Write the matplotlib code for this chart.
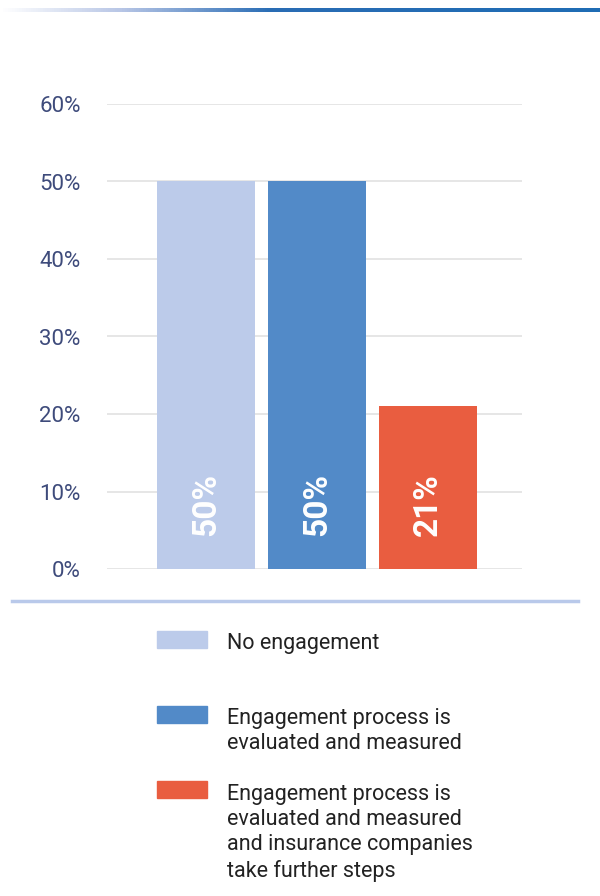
import numpy as np
import matplotlib
matplotlib.use("Agg")
import matplotlib.pyplot as plt
from matplotlib.patches import Rectangle
from matplotlib.lines import Line2D
from matplotlib.colors import LinearSegmentedColormap

categories = [
    "No engagement",
    "Engagement process is\nevaluated and measured",
    "Engagement process is\nevaluated and measured\nand insurance companies\ntake further steps",
]
values = [50, 50, 21]
bar_labels = ["50%", "50%", "21%"]
colors = ["#bccbea", "#528ac8", "#e95d40"]
yticks = [0, 10, 20, 30, 40, 50, 60]
ytick_labels = ["0%", "10%", "20%", "30%", "40%", "50%", "60%"]

W, H = 600, 896
plt.rcParams["font.family"] = ["Roboto", "DejaVu Sans"]
fig = plt.figure(figsize=(W / 100, H / 100), dpi=100)

def fx(px):
    return px / W

def fy(py):
    return 1 - py / H

# top gradient rule
grad_ax = fig.add_axes([0, fy(12.5), 1, 4.5 / H])
grad_ax.axis("off")
cmap = LinearSegmentedColormap.from_list(
    "rule", [(0, "#ffffff"), (0.2, "#b8c6e6"), (0.45, "#2a6db5"), (1, "#1f6cb4")])
grad_ax.imshow(np.linspace(0, 1, 600)[None, :], aspect="auto", cmap=cmap,
               extent=[0, 1, 0, 1])

# bar chart
ax = fig.add_axes([fx(107), fy(569), fx(522) - fx(107), 465 / H])
x = np.arange(len(values))
ax.bar(x, values, width=0.883, color=colors, zorder=2)
ax.set_ylim(0, 60)
ax.set_xlim(-0.892, -0.892 + 415 / 111)
ax.set_yticks(yticks)
ax.set_yticklabels(ytick_labels, color="#3e4b7b", fontsize=16)
ax.tick_params(axis="y", length=0, pad=19)
ax.set_xticks([])
ax.grid(axis="y", color="#e2e2e2", linewidth=1.2, zorder=0)
for s in ax.spines.values():
    s.set_visible(False)

for xi, lab in zip(x, bar_labels):
    ax.text(xi, 4.2, lab, rotation=90, ha="center", va="bottom",
            color="white", fontsize=24, fontweight="bold", zorder=3)

# bottom rule
fig.add_artist(Line2D([fx(12), fx(578)], [fy(601), fy(601)],
                      color="#b9c9ea", linewidth=2.5))

# legend
legend_rows = [(631, 633), (706, 708), (781, 784)]
for (ptop, ttop), lab, c in zip(legend_rows, categories, colors):
    fig.add_artist(Rectangle((fx(157), fy(ptop + 17)), fx(207) - fx(157), 17 / H,
                             color=c, transform=fig.transFigure))
    fig.text(fx(227), fy(ttop), lab, ha="left", va="top", fontsize=15.5,
             color="#222222", linespacing=1.26)

fig.savefig("out.png", dpi=100)
